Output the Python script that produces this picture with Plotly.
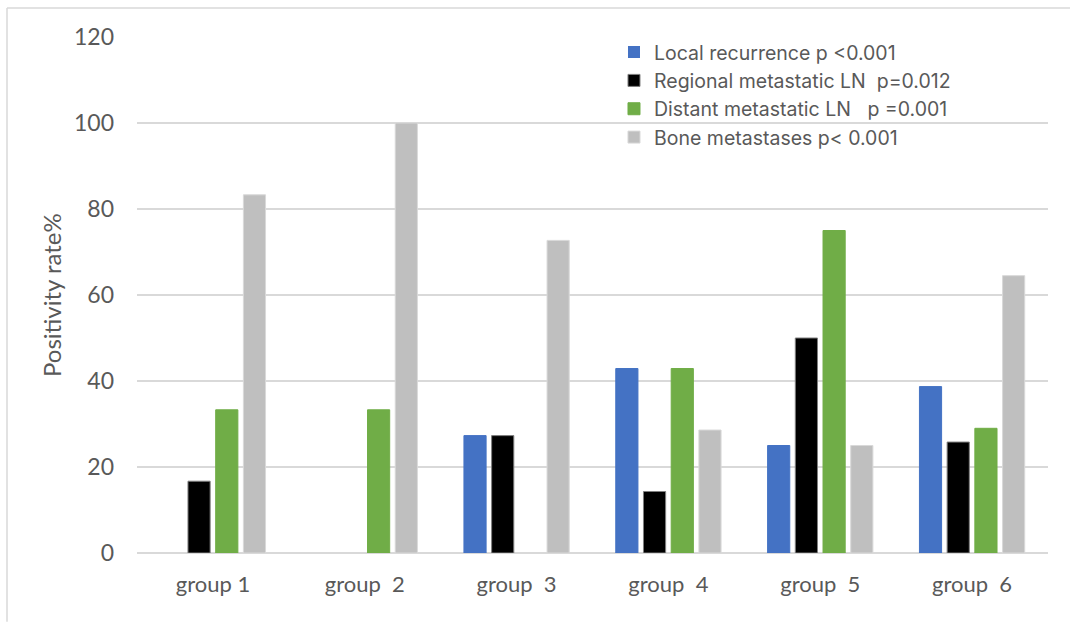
import plotly.graph_objects as go

# Positivity rates (%) per group and outcome
groups = ["group 1", "group  2", "group  3", "group  4", "group  5", "group  6"]
local_recurrence = [0, 0, 27.3, 42.9, 25.0, 38.7]
regional_ln = [16.7, 0, 27.3, 14.3, 50.0, 25.8]
distant_ln = [33.3, 33.3, 0, 42.9, 75.0, 29.0]
bone_mets = [83.3, 100.0, 72.7, 28.6, 25.0, 64.5]

series_names = [
    "Local recurrence p <0.001",
    "Regional metastatic LN  p=0.012",
    "Distant metastatic LN   p =0.001",
    "Bone metastases p< 0.001",
]
series_values = [local_recurrence, regional_ln, distant_ln, bone_mets]
fill_colors = ["#4472C4", "#000000", "#70AD47", "#BFBFBF"]
edge_colors = ["#4472C4", "#7F7F7F", "#70AD47", "#D9D9D9"]

FONT = "Lato"
LEGEND_FONT = "Inter"
TEXT = "#595959"
GRID = "#D9D9D9"

fig = go.Figure()
for name, vals, fc, ec in zip(series_names, series_values, fill_colors, edge_colors):
    # no outline on empty bars so they stay invisible
    widths = [1 if v > 0 else 0 for v in vals]
    fig.add_trace(go.Bar(
        x=groups, y=vals, name=name,
        marker=dict(color=fc, line=dict(color=ec, width=widths)),
    ))

# outer chart frame (top and left edges)
frame = dict(type="line", xref="paper", yref="paper",
             line=dict(color=GRID, width=1.5), layer="below")
fig.add_shape(x0=-0.1427, x1=1.03, y0=1.0562, y1=1.0562, **frame)
fig.add_shape(x0=-0.1427, x1=-0.1427, y0=1.0562, y1=-0.133, **frame)

fig.add_annotation(
    text="Positivity rate%", textangle=-90,
    xref="paper", yref="paper", x=-0.0944, y=0.5,
    xanchor="center", yanchor="middle", showarrow=False,
    font=dict(family=FONT, size=24, color=TEXT),
)

fig.update_layout(
    width=1070, height=623,
    margin=dict(l=137, r=22, t=37, b=70),
    paper_bgcolor="white", plot_bgcolor="white",
    barmode="group", bargap=0.27, bargroupgap=0.2,
    font=dict(family=FONT, size=22, color=TEXT),
    showlegend=True,
    legend=dict(
        x=0.5236, y=1.008, xanchor="left", yanchor="top",
        bgcolor="rgba(0,0,0,0)", font=dict(family=LEGEND_FONT, size=19.5, color=TEXT),
        itemwidth=30, tracegroupgap=0,
    ),
    xaxis=dict(
        showgrid=False, showline=False, ticks="",
        tickfont=dict(family=FONT, size=22, color=TEXT),
        ticklabelstandoff=16,
    ),
    yaxis=dict(
        range=[0, 120], dtick=20, tick0=0,
        showgrid=True, gridcolor=GRID, gridwidth=1.5,
        zeroline=True, zerolinecolor=GRID, zerolinewidth=1.5,
        showline=False, ticks="",
        tickfont=dict(family=FONT, size=23, color=TEXT),
        ticklabelstandoff=22,
    ),
)

fig.write_html("out.html")
